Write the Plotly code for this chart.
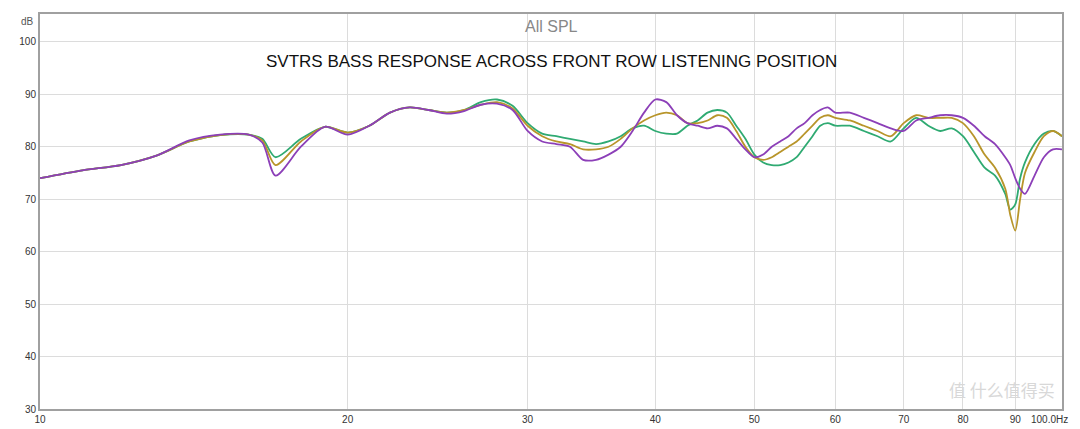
import plotly.graph_objects as go

freq = [10,11,12,13,14,15,16,16.5,17,18,19,20,21,22,23,24,25,26,27,28,29,30,31,32,33,34,35,36,37,38,39,40,41,42,43,44,45,46,47,48,49,50,51,52,53,54,55,56,57,58,59,60,62,64,66,68,70,72,74,76,78,80,82,84,86,88,89,90,91,92,94,96,98,100]
green = [74,75.5,76.5,78.3,81,82.2,82.3,81.5,78,81.5,83.8,82.7,84,86.5,87.5,87,86.5,87,88.5,89,87.8,84.5,82.5,82,81.5,81,80.5,81,82,83.5,84,83,82.5,82.5,84,85,86.5,87,86.5,84,81.5,78.5,77,76.5,76.5,77,78,80,82,84,84.5,84,84,83,82,81,83.5,85.5,84,83,83.5,82,79,76,74.5,71,68,69,74,77,80.5,82.5,83,82]
gold = [74,75.5,76.5,78.3,81,82.2,82.3,81.2,76.5,81,83.8,82.7,84,86.5,87.5,87,86.5,87,88,88.5,87.3,84,82,81,80.5,79.5,79.5,80,81.5,83.5,85,86,86.5,86,84.5,84.5,85,86,85.5,83,80,78,77.5,78,79,80,81,82.5,84,85.5,86,85.5,85,84,83,82,84.5,86,85.5,85.5,85.5,84.5,82,78.5,76,72,67,64,70,75,79,82,83,82]
purple = [74,75.5,76.5,78.3,81.2,82.3,82.3,80.8,74.5,80,83.8,82.3,84,86.5,87.5,87,86.3,86.8,88,88.2,87,83,81,80.5,80,77.5,77.5,78.5,80,83,86.5,89,88.5,86,84.5,84,83.5,84,83.5,81.5,79.5,78,78.5,80,81,82,83.5,84.5,86,87,87.5,86.5,86.5,85.5,84.5,83.5,83,85,85.5,86,86,85.5,84,82,80.5,78,76.5,74,72,71,74.5,78,79.5,79.5]

fig = go.Figure()
for y, c in [(green, "#2faa72"), (gold, "#b8952a"), (purple, "#8c3fb8")]:
    fig.add_trace(go.Scatter(x=freq, y=y, mode="lines", line=dict(color=c, width=1.8, shape="spline", smoothing=0.8), showlegend=False))

tickvals = [10,20,30,40,50,60,70,80,90]
ticktext = ["10","20","30","40","50","60","70","80","90"]
fig.update_layout(
    width=1072, height=421, margin=dict(l=32, r=18, t=4, b=19),
    plot_bgcolor="white", paper_bgcolor="white",
    font=dict(family="Liberation Sans, Arial", size=10, color="#333"),
    xaxis=dict(type="log", range=[1, 2], tickvals=tickvals, ticktext=ticktext, gridcolor="#dcdcdc",
               showline=True, linecolor="#a0a0a0", linewidth=2, mirror=True, ticks="", zeroline=False),
    yaxis=dict(range=[30, 105.3], tickvals=[30,40,50,60,70,80,90,100], gridcolor="#dcdcdc",
               showline=True, linecolor="#a0a0a0", linewidth=2, mirror=True, ticks="", zeroline=False),
    annotations=[
        dict(text="All SPL", x=0.5, y=1.0, yanchor="top", yshift=-2, xref="paper", yref="paper", showarrow=False, font=dict(size=16, color="#888")),
        dict(text="SVTRS BASS RESPONSE ACROSS FRONT ROW LISTENING POSITION", x=0.5, xref="paper", y=96.3, yref="y",
             showarrow=False, font=dict(size=17, color="#111")),
        dict(text="dB", x=0, xref="paper", xshift=-4, y=1.0, yref="paper", yanchor="top", xanchor="right", showarrow=False, font=dict(size=10, color="#555")),
        dict(text="100.0Hz", x=1, xref="paper", y=0, yref="paper", yanchor="top", xanchor="right", xshift=8, yshift=-3, showarrow=False, font=dict(size=10, color="#333")),
        dict(text="值 什么值得买", x=0.995, xref="paper", y=0.0, yref="paper", xanchor="right", yanchor="bottom", yshift=5, showarrow=False,
             font=dict(size=17, color="#d8d8d8", family="Noto Sans CJK SC")),
    ],
)
fig.write_html("out.html")
